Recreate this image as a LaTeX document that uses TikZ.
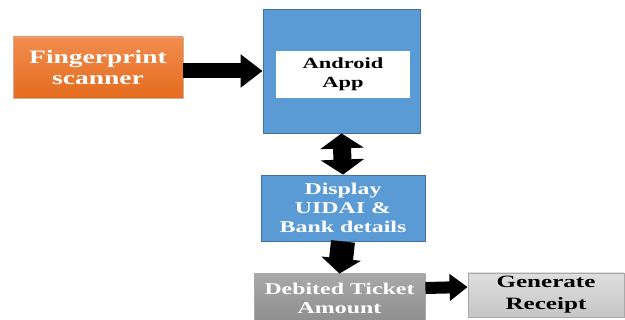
\documentclass[tikz,border=0pt]{standalone}
\usepackage{fontspec}
\setmainfont{Liberation Serif}[FakeStretch=1.45]
\usetikzlibrary{arrows.meta}

\definecolor{scanorangetop}{HTML}{F28C4E}
\definecolor{scanorangebot}{HTML}{E46C1E}
\definecolor{appblue}{HTML}{5B9BD5}
\definecolor{appborder}{HTML}{41719C}
\definecolor{debittop}{HTML}{A8A8A8}
\definecolor{debitbot}{HTML}{8E8E8E}
\definecolor{receipttop}{HTML}{DEDEDE}
\definecolor{receiptbot}{HTML}{C6C6C6}

\begin{document}
\begin{tikzpicture}[x=0.025cm, y=-0.025cm,
    blockbox/.style={line width=0.6pt, align=center, inner sep=0pt, font=\bfseries},
    bigtext/.style={font=\fontsize{13.5}{15.6}\selectfont\bfseries},
    smalltext/.style={font=\fontsize{11.7}{13.6}\selectfont\bfseries},
    blockarrow/.style={line width=#1, draw=black}]
    \def\px{0.025cm}
    \useasboundingbox (0,0) rectangle (625,320);

    % scanner
    \node[blockbox, bigtext, draw=scanorangebot!50!gray!60!white, top color=scanorangetop, bottom color=scanorangebot,
          text=white, minimum width=170*\px, minimum height=61*\px] (scanner) at (98,67.5)
          {Fingerprint\\scanner};

    % android app
    \node[blockbox, draw=appborder, fill=appblue, minimum width=157*\px, minimum height=124*\px] (app) at (341.5,71) {};
    \node[blockbox, font=\fontsize{11}{13.2}\selectfont\bfseries, fill=white, text=black,
          minimum width=134*\px, minimum height=47*\px] (appname) at (343,74.5)
          {Android\\App};

    % details
    \node[blockbox, smalltext, draw=appborder, fill=appblue, text=white,
          minimum width=164*\px, minimum height=66*\px] (details) at (343,208)
          {Display\\UIDAI \&\\Bank details};

    % debit
    \node[blockbox, smalltext, draw=debittop, top color=debittop, bottom color=debitbot, text=white,
          minimum width=171*\px, minimum height=48*\px] (debit) at (339.5,298)
          {Debited Ticket\\Amount};

    % receipt
    \node[blockbox, font=\fontsize{12.3}{15.6}\selectfont\bfseries, draw=receiptbot!85!black,
          top color=receipttop, bottom color=receiptbot, text=black,
          minimum width=156*\px, minimum height=44*\px] (receipt) at (546,295)
          {Generate\\Receipt};

    % arrows
    \draw[blockarrow=0.375cm, -{Triangle[length=0.55cm, width=0.8cm]}]
        (app.west -| scanner.east) -- (app.west);
    \draw[blockarrow=0.45cm, {Triangle[length=0.375cm, width=1.075cm]}-{Triangle[length=0.375cm, width=1.075cm]}]
        (app.south) -- (details.north);
    \draw[blockarrow=0.6cm, -{Triangle[length=0.375cm, width=0.975cm]}]
        (details.south) -- (debit.north);
    \draw[blockarrow=0.3cm, -{Triangle[length=0.45cm, width=0.65cm]}]
        ([yshift=0.25cm]debit.east) -- ([yshift=0.2cm]receipt.west);
\end{tikzpicture}
\end{document}
